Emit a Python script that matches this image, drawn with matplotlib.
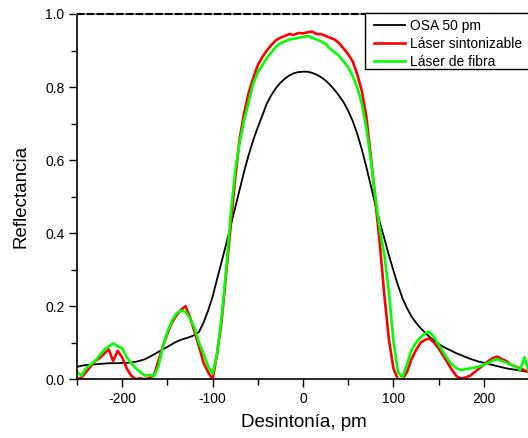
import matplotlib
matplotlib.use("Agg")
import matplotlib.pyplot as plt
import numpy as np
from matplotlib.ticker import MultipleLocator, FormatStrFormatter
from matplotlib.patches import Rectangle

plt.rcParams['font.family'] = ['Liberation Sans', 'DejaVu Sans']
plt.rcParams['axes.unicode_minus'] = False

# Detuning axis (pm), sampled every 5 pm
detuning = np.arange(-250, 251, 5)

# OSA measurement with 50 pm resolution
osa_50pm = [
    0.034, 0.037, 0.039, 0.040, 0.041, 0.042, 0.043, 0.044, 0.044, 0.044,
    0.045, 0.045, 0.046, 0.048, 0.051, 0.055, 0.061, 0.068, 0.075, 0.082,
    0.089, 0.096, 0.103, 0.108, 0.112, 0.116, 0.121, 0.130, 0.155, 0.188,
    0.226, 0.275, 0.322, 0.370, 0.420, 0.470, 0.520, 0.570, 0.615, 0.655,
    0.690, 0.722, 0.755, 0.778, 0.797, 0.812, 0.823, 0.832, 0.838, 0.841,
    0.842, 0.842, 0.839, 0.834, 0.827, 0.818, 0.806, 0.792, 0.776, 0.758,
    0.735, 0.707, 0.672, 0.630, 0.582, 0.530, 0.478, 0.430, 0.385, 0.340,
    0.298, 0.258, 0.222, 0.195, 0.172, 0.155, 0.140, 0.128, 0.116, 0.106,
    0.097, 0.089, 0.083, 0.077, 0.071, 0.066, 0.061, 0.056, 0.052, 0.048,
    0.045, 0.042, 0.039, 0.036, 0.033, 0.030, 0.028, 0.026, 0.024, 0.022,
    0.020,
]

# Tunable laser scan
tunable_laser = [
    0.000, 0.005, 0.020, 0.035, 0.050, 0.058, 0.070, 0.082, 0.050, 0.078,
    0.060, 0.030, 0.010, 0.000, 0.003, 0.000, 0.004, 0.010, 0.050, 0.090,
    0.125, 0.155, 0.175, 0.190, 0.200, 0.170, 0.130, 0.090, 0.045, 0.020,
    0.000, 0.070, 0.160, 0.290, 0.420, 0.550, 0.660, 0.730, 0.785, 0.825,
    0.860, 0.882, 0.900, 0.915, 0.928, 0.935, 0.940, 0.945, 0.943, 0.948,
    0.947, 0.950, 0.952, 0.945, 0.945, 0.940, 0.935, 0.930, 0.920, 0.905,
    0.890, 0.870, 0.835, 0.790, 0.720, 0.610, 0.490, 0.370, 0.230, 0.110,
    0.030, 0.000, 0.000, 0.020, 0.055, 0.080, 0.100, 0.108, 0.112, 0.100,
    0.085, 0.065, 0.045, 0.025, 0.008, 0.002, 0.005, 0.010, 0.020, 0.030,
    0.040, 0.050, 0.058, 0.062, 0.055, 0.050, 0.040, 0.035, 0.030, 0.025,
    0.020,
]

# Fiber laser scan
fiber_laser = [
    0.020, 0.010, 0.030, 0.040, 0.050, 0.065, 0.080, 0.090, 0.098, 0.090,
    0.085, 0.060, 0.045, 0.030, 0.020, 0.010, 0.012, 0.008, 0.035, 0.090,
    0.130, 0.160, 0.180, 0.188, 0.185, 0.167, 0.140, 0.100, 0.070, 0.035,
    0.015, 0.070, 0.170, 0.300, 0.450, 0.570, 0.650, 0.710, 0.760, 0.810,
    0.840, 0.860, 0.880, 0.895, 0.910, 0.920, 0.925, 0.930, 0.932, 0.935,
    0.937, 0.940, 0.935, 0.930, 0.925, 0.918, 0.905, 0.895, 0.885, 0.870,
    0.855, 0.830, 0.800, 0.755, 0.690, 0.600, 0.500, 0.410, 0.340, 0.240,
    0.106, 0.020, 0.005, 0.040, 0.080, 0.100, 0.115, 0.125, 0.130, 0.115,
    0.095, 0.075, 0.055, 0.040, 0.030, 0.025, 0.028, 0.030, 0.032, 0.035,
    0.040, 0.045, 0.052, 0.055, 0.050, 0.045, 0.040, 0.035, 0.025, 0.060,
    0.020,
]

labels = ["OSA 50 pm", "Láser sintonizable", "Láser de fibra"]

fig = plt.figure(figsize=(5.28, 4.38), dpi=100)
ax = fig.add_axes([77 / 528, 58.7 / 438, 452 / 528, 365.3 / 438])

ax.plot(detuning, osa_50pm, color="black", lw=1.3, label=labels[0])
ax.plot(detuning, tunable_laser, color="#ff0000", lw=1.9, label=labels[1])
ax.plot(detuning, fiber_laser, color="#00ff00", lw=1.9, label=labels[2])

ax.set_xlim(-250, 250)
ax.set_ylim(0.0, 1.0)
ax.xaxis.set_major_locator(MultipleLocator(100))
ax.xaxis.set_minor_locator(MultipleLocator(50))
ax.yaxis.set_major_locator(MultipleLocator(0.2))
ax.yaxis.set_minor_locator(MultipleLocator(0.1))
ax.yaxis.set_major_formatter(FormatStrFormatter('%.1f'))

ax.tick_params(which='major', direction='out', length=6, width=1.0, labelsize=10, pad=3)
ax.tick_params(which='minor', direction='out', length=4, width=1.0)
ax.tick_params(top=False, right=False)

for side in ['left', 'bottom']:
    ax.spines[side].set_linewidth(1.2)
ax.spines['right'].set_visible(False)
ax.spines['top'].set_linewidth(1.5)
ax.spines['top'].set_color('#8a8a8a')
ax.axhline(1.0, color='black', lw=1.5, dashes=(3.5, 1.2), clip_on=False, zorder=5)

ax.set_xlabel("Desintonía, pm", fontsize=13.5)
ax.set_ylabel("Reflectancia", fontsize=13.5)
ax.xaxis.set_label_coords(0.501, -0.096)
ax.yaxis.set_label_coords(-0.106, 0.5)

# Legend box: white panel with a black border running past the right edge
ax.add_patch(Rectangle((0.6364, 0.8494), 0.5, 0.1533, transform=ax.transAxes,
                       facecolor='white', edgecolor='black', lw=1.0,
                       clip_on=False, zorder=6))
leg = ax.legend(loc='upper left', bbox_to_anchor=(0.656, 0.987), fontsize=10,
                frameon=False, borderpad=0, labelspacing=0.29, handlelength=2.3,
                handletextpad=0.35, borderaxespad=0)
leg.set_zorder(7)

fig.savefig("out.png", dpi=100)
